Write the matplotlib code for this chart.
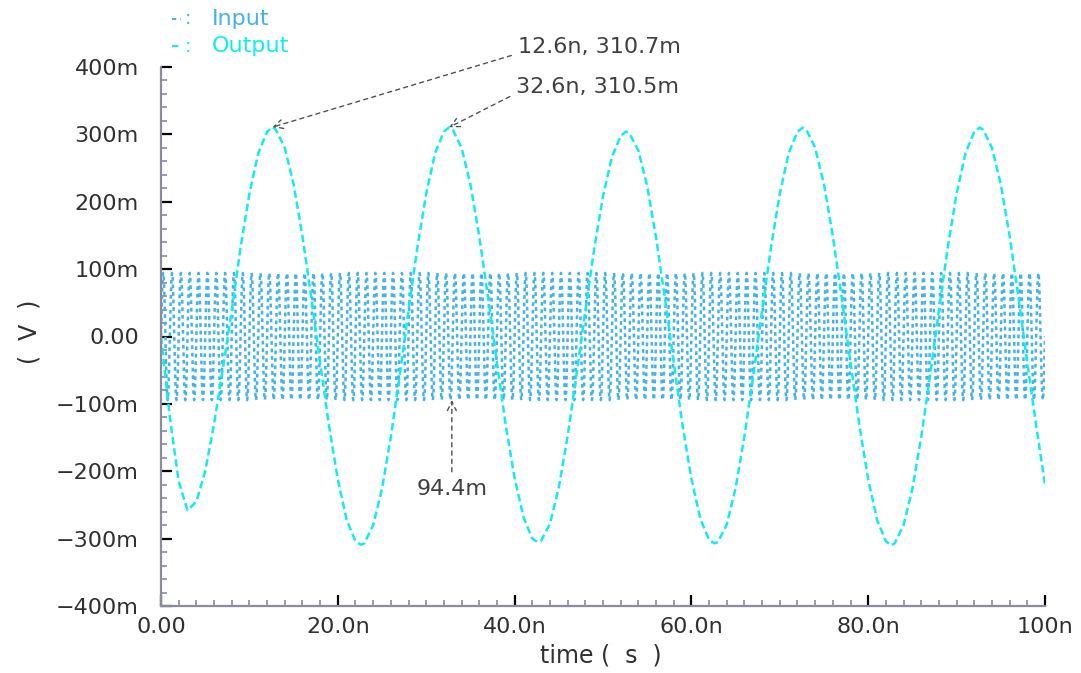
import numpy as np
import matplotlib
matplotlib.use("Agg")
import matplotlib.pyplot as plt
from matplotlib.lines import Line2D
from matplotlib.ticker import MultipleLocator, FixedLocator

# ---------------- data (time in ns, voltage in mV) ----------------
out_t = [0, 1, 2, 3, 4, 5, 6, 7, 8, 9, 10, 11, 12, 12.6, 13, 14, 15, 16, 17,
         18, 19, 20, 21, 22, 22.6, 23, 24, 25, 26, 27,
         28, 29, 30, 31, 32, 32.6, 33, 34, 35, 36, 37,
         38, 39, 40, 41, 42, 42.6, 43, 44, 45, 46, 47,
         48, 49, 50, 51, 52, 52.6, 53, 54, 55, 56, 57,
         58, 59, 60, 61, 62, 62.6, 63, 64, 65, 66, 67,
         68, 69, 70, 71, 72, 72.6, 73, 74, 75, 76, 77,
         78, 79, 80, 81, 82, 82.6, 83, 84, 85, 86, 87,
         88, 89, 90, 91, 92, 92.6, 93, 94, 95, 96, 97,
         98, 99, 100]
out_v = [0, -120, -215, -258, -245, -200, -130, -48, 38, 132, 212, 272, 304, 310.7, 307, 280, 226, 149, 58,
         -39, -132, -212, -272, -304, -309, -307, -280, -226, -149, -58,
         39, 132, 212, 272, 304, 310.5, 307, 280, 226, 149, 58,
         -39, -132, -210, -268, -300, -305, -303, -278, -224, -148, -57,
         38, 130, 208, 266, 298, 304, 301, 276, 223, 147, 57,
         -39, -132, -211, -270, -302, -307, -305, -279, -225, -148, -58,
         39, 132, 212, 272, 304, 310, 307, 280, 226, 149, 58,
         -39, -132, -212, -272, -304, -310, -307, -280, -226, -149, -58,
         39, 132, 212, 272, 304, 310, 307, 280, 226, 149, 58,
         -39, -132, -220]

# Input: one measured cycle (period 1 ns, peak 94.4 mV), repeated over 100 ns
in_period = 1.0
in_cycle = [0, 36.1, 66.8, 87.2, 94.4, 87.2, 66.8, 36.1,
            0, -36.1, -66.8, -87.2, -94.4, -87.2, -66.8, -36.1]
n_cycles = 100

y_ticks = [-400, -300, -200, -100, 0, 100, 200, 300, 400]
y_labels = ["\u2212400m", "\u2212300m", "\u2212200m", "\u2212100m", "0.00",
            "100m", "200m", "300m", "400m"]
x_ticks = [0, 20, 40, 60, 80, 100]
x_labels = ["0.00", "20.0n", "40.0n", "60.0n", "80.0n", "100n"]

markers = [  # (x, y, label, text_x, text_y, ha)
    (12.6, 310.7, "12.6n, 310.7m", 40.4, 429, 'left'),
    (32.6, 310.5, "32.6n, 310.5m", 40.2, 370, 'left'),
    (32.9, -94.4, "94.4m", 32.9, -226, 'center'),
]

# ---------------- build input series ----------------
in_v = np.array(in_cycle * n_cycles + [0.0])
in_t = np.arange(len(in_v)) * (in_period / len(in_cycle))

# ---------------- figure ----------------
plt.rcParams['font.family'] = ['DejaVu Sans']
fig = plt.figure(figsize=(10.81, 6.73), dpi=100)
ax = fig.add_axes([161/1081, 1-606/673, (1045-161)/1081, (606-67)/673])

in_color = "#44b4e6"
out_color = "#10ecf2"

ax.plot(in_t, in_v, color=in_color, lw=1.8, linestyle=(0, (1.5, 1.5)))
ax.plot(out_t, out_v, color=out_color, lw=1.8, linestyle=(0, (3, 1.5)))

ax.set_xlim(0, 100)
ax.set_ylim(-400, 400)

ax.yaxis.set_major_locator(FixedLocator(y_ticks))
ax.set_yticklabels(y_labels)
ax.xaxis.set_major_locator(FixedLocator(x_ticks))
ax.set_xticklabels(x_labels)
ax.xaxis.set_minor_locator(MultipleLocator(2))
ax.yaxis.set_minor_locator(MultipleLocator(20))

for s in ['top', 'right']:
    ax.spines[s].set_visible(False)
for s in ['left', 'bottom']:
    ax.spines[s].set_color('#8a8aa0')
    ax.spines[s].set_linewidth(1.6)

ax.tick_params(which='major', direction='in', length=8, width=1.6, color='black',
               labelsize=16, labelcolor='#303030')
ax.tick_params(axis='y', which='major', pad=16)
ax.tick_params(axis='x', which='major', pad=8)
ax.tick_params(which='minor', direction='in', length=4, width=1.2, color='#8a8aa0')

fig.text(601/1081, 1-656/673, "time (  s  )", ha='center', va='center',
         fontsize=17, color='#303030')
fig.text(30/1081, 1-332/673, "(  V  )", ha='center', va='center', rotation=90,
         fontsize=17, color='#303030')

# legend
for ly, lab, col, ls in [(19, "Input", in_color, (0, (2, 2))),
                          (46, "Output", out_color, (0, (3, 1.5)))]:
    yy = 1 - ly/673
    fig.add_artist(Line2D([172/1081, 181/1081], [yy, yy], color=col, lw=1.5,
                          linestyle=ls, transform=fig.transFigure))
    fig.text(185/1081, yy, ":", ha='left', va='center', fontsize=14, color=col)
    fig.text(212/1081, yy, lab, ha='left', va='center', fontsize=16, color=col)

# markers / annotations
for mx, my, lab, tx, ty, ha in markers:
    ax.annotate(lab, xy=(mx, my), xytext=(tx, ty), textcoords='data',
                fontsize=16, color='#404040', ha=ha, va='center',
                annotation_clip=False,
                arrowprops=dict(arrowstyle='->', color='#505050', lw=1.0,
                                linestyle=(0, (3, 3)),
                                relpos=(0.5, 1.0) if ha == 'center' else (0.0, 0.2),
                                shrinkA=3, shrinkB=0))

fig.savefig("out.png", dpi=100)
